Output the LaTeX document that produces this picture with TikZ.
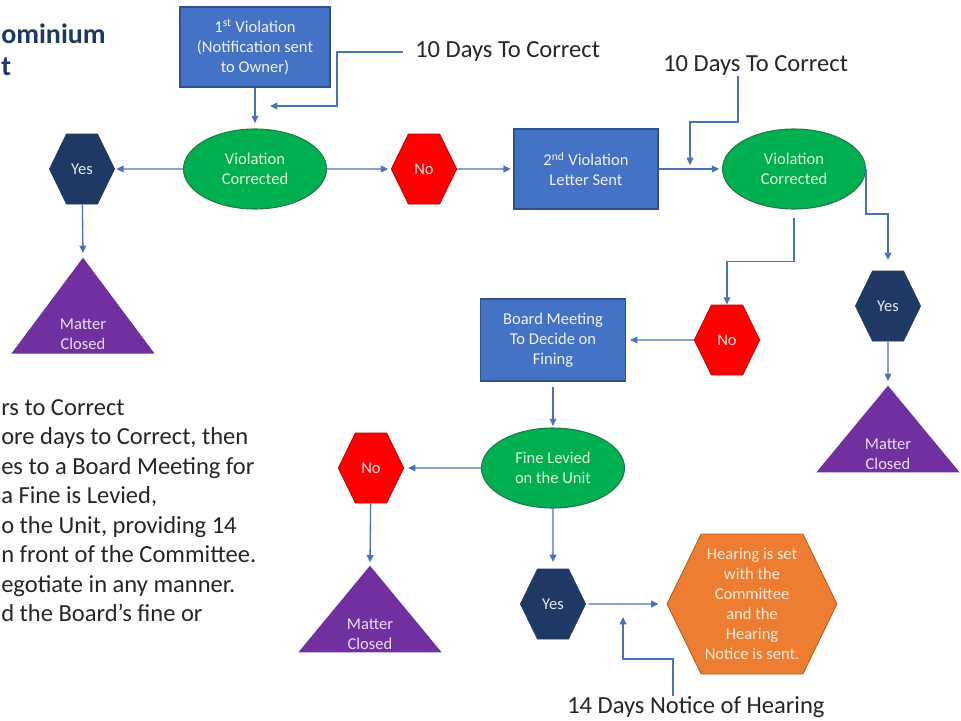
\documentclass[tikz,border=0pt]{standalone}
\usepackage{fontspec}
\setmainfont{Carlito}
\usetikzlibrary{shapes.geometric,shapes.symbols,arrows.meta}

\definecolor{boxblue}{HTML}{4472C4}
\definecolor{boxedge}{HTML}{2F528F}
\definecolor{boxtext}{HTML}{EEF2FA}
\definecolor{ovalgreen}{HTML}{00B050}
\definecolor{ovaledge}{HTML}{217A45}
\definecolor{ovaltext}{HTML}{DDF3D6}
\definecolor{navyhex}{HTML}{203864}
\definecolor{navytext}{HTML}{E6EAF3}
\definecolor{redhex}{HTML}{FF0000}
\definecolor{rededge}{HTML}{C00000}
\definecolor{redtext}{HTML}{FFE0E0}
\definecolor{closedviolet}{HTML}{7030A0}
\definecolor{closedtext}{HTML}{EADCF5}
\definecolor{hearorange}{HTML}{ED7D31}
\definecolor{hearedge}{HTML}{AE5A21}
\definecolor{heartext}{HTML}{FDEBDD}
\definecolor{linkblue}{HTML}{4A72B8}
\definecolor{titlenavy}{HTML}{1F3864}
\definecolor{bodygrey}{HTML}{262626}

\newcommand{\nodefont}{\fontsize{12.4}{15}\selectfont}
\newcommand{\bigfont}{\fontsize{18.4}{22}\selectfont}
% text of a closed triangle, set a little lower than the shape's centre
\newcommand{\closedwords}{\raisebox{-7.5pt}[0pt][0pt]{\begin{tabular}{@{}c@{}}Matter\\Closed\end{tabular}}}

\tikzset{
  stepbox/.style={rectangle, draw=boxedge, fill=boxblue, text=boxtext, line width=0.8pt,
    align=center, inner sep=2pt, font=\nodefont},
  checkoval/.style={ellipse, draw=ovaledge, fill=ovalgreen, text=ovaltext, line width=0.8pt,
    align=center, inner sep=0pt, minimum width=107.25pt, minimum height=60pt, font=\nodefont},
  hexa/.style={signal, signal to=east and west, signal pointer angle=128, inner sep=0pt,
    align=center, font=\nodefont, minimum width=49pt, minimum height=52.5pt},
  yeshex/.style={hexa, fill=navyhex, draw=navyhex, text=navytext},
  nohex/.style={hexa, fill=redhex, draw=rededge, line width=0.6pt, text=redtext},
  hearhex/.style={hexa, fill=hearorange, draw=hearedge, line width=0.6pt, text=heartext,
    minimum width=127.5pt, minimum height=105pt},
  closedtri/.style={isosceles triangle, shape border rotate=90, isosceles triangle stretches,
    fill=closedviolet, text=closedtext, inner sep=0pt, font=\nodefont,
    minimum width=107.5pt, minimum height=65pt},
  flow/.style={draw=linkblue, line width=1pt, -{Triangle[length=5.5pt,width=5pt]}},
  daystext/.style={inner sep=0pt, text=bodygrey, font=\bigfont},
}

\begin{document}
\begin{tikzpicture}[x=0.75pt, y=-0.75pt]
  \useasboundingbox[fill=white] (0,0) rectangle (961,721);

  % title, cut at the left edge
  \node[anchor=base west, inner sep=0pt, text=titlenavy, font=\fontsize{21}{24}\selectfont\bfseries] (title1) at (1,43) {ominium};
  \node[anchor=base west, inner sep=0pt, text=titlenavy, font=\fontsize{21}{24}\selectfont\bfseries] (title2) at (1,75) {t};

  % rules text
  \foreach \txt [count=\i from 0] in {{rs to Correct},{ore days to Correct, then},{es to a Board Meeting for},{a Fine is Levied,},{o the Unit, providing 14},{n front of the Committee.},{egotiate in any manner.},{d the Board’s fine or}}
    \node[daystext, anchor=base west] (rule\i) at (1,{415+29.5*\i}) {\txt};

  % first row
  \node[stepbox, minimum width=112.5pt, minimum height=60pt] (viol1) at (255,47) {1\textsuperscript{st} Violation\\(Notification sent\\to Owner)};
  \node[checkoval] (corr1) at (255,169) {Violation\\Corrected};
  \node[yeshex] (yes1) at (82,169) {Yes};
  \node[closedtri, anchor=apex, minimum height=72pt] (closed1) at (83,257) {\closedwords};
  \node[nohex] (no1) at (424,169) {No};
  \node[stepbox, minimum width=108pt, minimum height=60pt] (letter2) at (586,169) {2\textsuperscript{nd} Violation\\Letter Sent};
  \node[checkoval] (corr2) at (794,169) {Violation\\Corrected};

  % second violation branches
  \node[yeshex] (yes2) at (888,306) {Yes};
  \node[closedtri, anchor=apex] (closed2) at (888,385) {\closedwords};
  \node[nohex] (no2) at (727,340) {No};
  \node[stepbox, minimum width=108.75pt, minimum height=61.5pt] (board) at (553,340) {Board Meeting\\To Decide on\\Fining};
  \node[checkoval] (fine) at (553,468) {Fine Levied\\on the Unit};
  \node[nohex] (no3) at (371,468) {No};
  \node[closedtri, anchor=apex] (closed3) at (370,565) {\closedwords};
  \node[yeshex] (yes3) at (553,604) {Yes};
  \node[hearhex] (hearing) at (752,604) {Hearing is set\\with the\\Committee\\and the\\Hearing\\Notice is sent.};

  % day counts
  \node[daystext, anchor=west] (days1) at (415,52) {10 Days To Correct};
  \node[daystext, anchor=west] (days2) at (663,66) {10 Days To Correct};
  \node[daystext, anchor=west] (notice) at (567,707) {14 Days Notice of Hearing};

  \coordinate (bend1) at (337,106);
  \coordinate (tip1) at (270,106);
  \coordinate (bend2a) at (738,122);
  \coordinate (bend2b) at (690,122);
  \coordinate (tip2) at (690,165);
  \coordinate (bend3a) at (673,659);
  \coordinate (bend3b) at (623,659);
  \coordinate (tip3) at (623,617);

  \draw[flow, shorten <=9pt] (days1.west) -| (bend1) -- (tip1);
  \draw[flow] (days2.south -| bend2a) -- (bend2a) -- (bend2b) -- (tip2);
  \draw[flow] (notice.north -| bend3a) -- (bend3a) -- (bend3b) -- (tip3);

  % connectors
  \draw[flow, shorten >=4pt] (viol1) -- (corr1);
  \draw[flow, shorten >=1pt] (corr1) -- (yes1);
  \draw[flow, shorten >=3pt] (yes1) -- (closed1.apex);
  \draw[flow, shorten >=2pt] (corr1) -- (no1);
  \draw[flow, shorten >=2pt] (no1) -- (letter2);
  \draw[flow, shorten >=2pt] (letter2) -- (corr2);
  \draw[flow, shorten >=8pt] (corr2.east) -- ++(0,45) -| (yes2.north);
  \draw[flow, shorten <=6pt] (corr2.south) -- ++(0,52) -| (no2.north);
  \draw[flow, shorten >=3pt] (yes2) -- (closed2.apex);
  \draw[flow, shorten >=3pt] (no2) -- (board);
  \draw[flow, shorten <=4pt, shorten >=1pt] (board) -- (fine);
  \draw[flow, shorten >=3pt] (fine) -- (no3);
  \draw[flow, shorten >=2pt] (no3) -- (closed3.apex);
  \draw[flow, shorten >=5pt] (fine) -- (yes3);
  \draw[flow, shorten <=2pt, shorten >=6pt] (yes3) -- (hearing);
\end{tikzpicture}
\end{document}
